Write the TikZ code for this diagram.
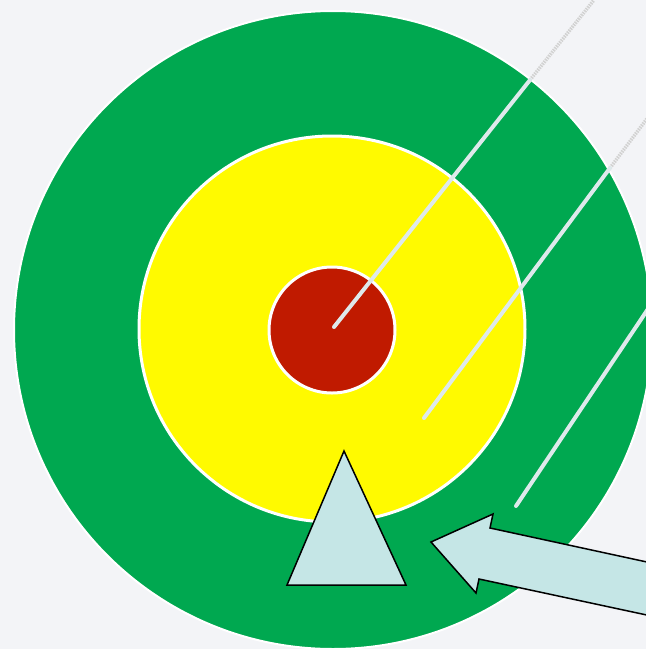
\documentclass[tikz,border=0pt]{standalone}
\usetikzlibrary{positioning}
\definecolor{targetgreen}{RGB}{0,168,80}
\definecolor{targetyellow}{RGB}{255,250,0}
\definecolor{targetred}{RGB}{192,26,0}
\definecolor{markercyan}{RGB}{197,230,230}
\definecolor{dartgray}{RGB}{222,233,235}
\definecolor{backwhite}{RGB}{243,244,247}
\begin{document}
\begin{tikzpicture}[x=1pt,y=-1pt,
  ring/.style={circle,draw=white,line width=3pt,inner sep=0pt,outer sep=0pt},
  dart/.style={draw=dartgray,line width=4pt,line cap=round},
  dartfade/.style={draw=gray!35,line width=3.5pt,dash pattern=on 1.5pt off 1pt},
  marker/.style={draw=black,fill=markercyan,line width=1.5pt,line join=miter}]
\useasboundingbox (0,0) rectangle (646,649);
\clip (0,0) rectangle (646,649);
\fill[backwhite] (0,0) rectangle (646,649);
% target
\node[ring,line width=2pt,draw=white,minimum size=638pt,fill=targetgreen](outer) at (333,330) {};
\node[ring,minimum size=386pt,fill=targetyellow](middle) at (332,329) {};
\node[ring,minimum size=126pt,fill=targetred](bull) at (332,330) {};
% darts
\coordinate (d1tip) at (334,327);
\coordinate (d1rim) at (530,80);
\coordinate (d1end) at (594,0);
\coordinate (d2tip) at (424,418);
\coordinate (d2rim) at (610,168);
\coordinate (d2end) at (652,112);
\coordinate (d3tip) at (516,506);
\coordinate (d3end) at (652,303);
\draw[dartfade](d1rim)--(d1end);
\draw[dartfade](d2rim)--(d2end);
\draw[dart](d1tip)--(d1rim);
\draw[dart](d2tip)--(d2rim);
\draw[dart](d3tip)--(d3end);
% marker and pointer
\draw[marker](344,451)--(406,585)--(287,585)--cycle;
\draw[marker](431,542)--(493,514)--(490,528)--(670,567)
  --(670,620)--(479,579)--(476,593)--cycle;
\end{tikzpicture}
\end{document}
